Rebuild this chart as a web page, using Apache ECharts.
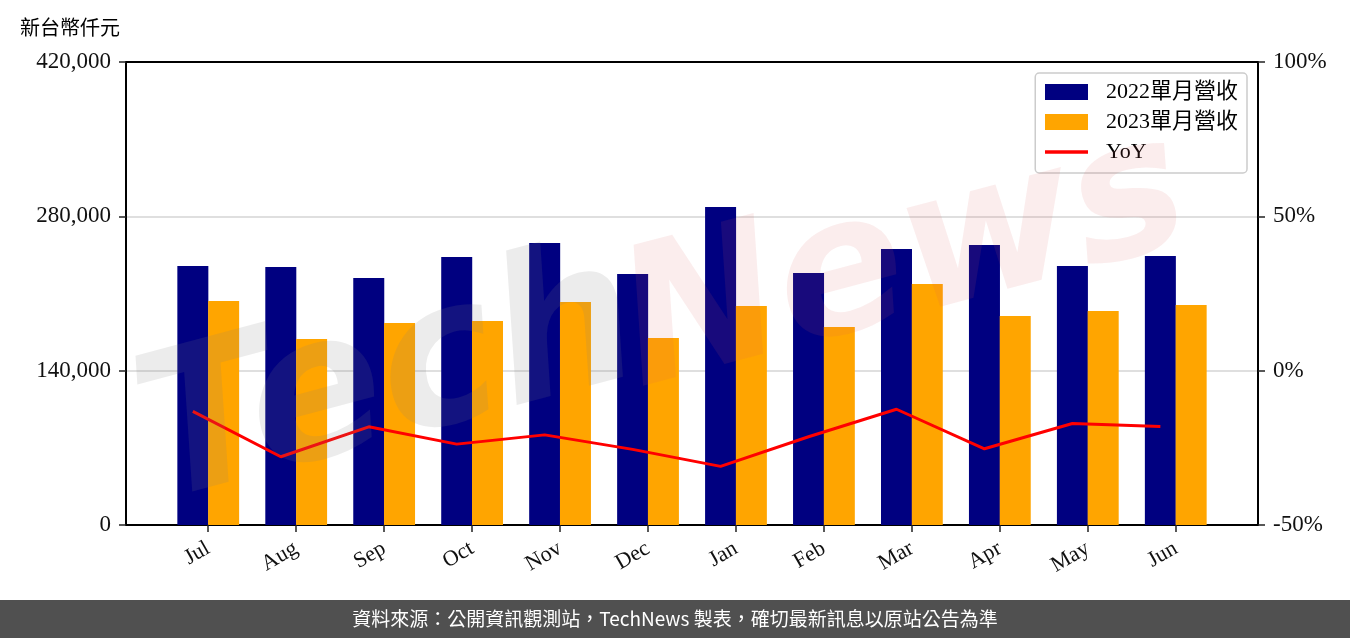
<!DOCTYPE html>
<html>
<head>
<meta charset="utf-8">
<script src="https://cdn.jsdelivr.net/npm/echarts@6/dist/echarts.min.js"></script>
<style>
html,body{margin:0;padding:0;background:#fff;}
#chart{width:1350px;height:638px;}
</style>
</head>
<body>
<div id="chart"></div>
<script>
// ---- data ----
var months = ['Jul','Aug','Sep','Oct','Nov','Dec','Jan','Feb','Mar','Apr','May','Jun'];
var rev2022 = [235000, 234000, 224100, 243100, 255800, 227700, 288500, 228600, 250400, 254000, 234900, 244000];
var rev2023 = [203200, 168700, 183200, 185100, 202300, 169600, 198700, 179600, 218600, 189600, 194100, 199600];
var yoy = [-13.2, -27.9, -18.2, -23.8, -20.8, -25.5, -31.0, -21.4, -12.5, -25.3, -17.1, -18.1];
var leftTicks = [0, 140000, 280000, 420000];
var rightTicks = [-50, 0, 50, 100];
var seriesNames = ['2022單月營收', '2023單月營收', 'YoY'];

// ---- layout / style ----
var OFF = 0.175;            // half of bar width in category units
var SERIF = "'Liberation Serif', 'Noto Sans CJK TC', serif";
var idx = months.map(function (m, i) { return i; });

var chart = echarts.init(document.getElementById('chart'), null, {renderer: 'canvas'});
var option = {
  animation: false,
  backgroundColor: '#ffffff',
  title: {
    text: '新台幣仟元',
    left: 15, top: 12,
    textStyle: {fontFamily: "'Noto Sans CJK TC', sans-serif", fontSize: 20, fontWeight: 'normal', color: '#000'}
  },
  legend: {
    orient: 'vertical',
    right: 103, top: 73,
    padding: [8, 9, 10, 8],
    itemWidth: 43, itemHeight: 16,
    itemGap: 8,
    borderColor: '#cccccc', borderWidth: 1.5, borderRadius: 4,
    backgroundColor: 'rgba(255,255,255,0.8)',
    data: [
      {name: seriesNames[0], icon: 'rect'},
      {name: seriesNames[1], icon: 'rect'},
      {name: seriesNames[2], itemStyle: {color: 'rgba(0,0,0,0)', borderColor: 'rgba(0,0,0,0)', borderWidth: 0},
       lineStyle: {color: '#ff0000', width: 3.5}}
    ],
    textStyle: {fontFamily: SERIF, fontSize: 22, color: '#000', padding: [0, 0, 0, 13]}
  },
  grid: {left: 126, right: 92, top: 62, bottom: 113, containLabel: false, outerBoundsMode: 'none'},
  xAxis: [
    {
      type: 'value', position: 'bottom',
      min: -0.935, max: 11.935,
      axisLine: {show: true, onZero: false, lineStyle: {color: '#000', width: 2}},
      axisTick: {show: true, customValues: idx, length: 7, lineStyle: {color: '#222', width: 1.5}},
      axisLabel: {
        show: true, customValues: idx, rotate: 30, margin: 22,
        fontFamily: SERIF, fontSize: 22, color: '#111',
        formatter: function (v) { return months[Math.round(v)]; }
      },
      splitLine: {show: false}
    },
    {
      type: 'value', position: 'top',
      min: -0.935, max: 11.935,
      axisLine: {show: true, onZero: false, lineStyle: {color: '#000', width: 2}},
      axisTick: {show: false}, axisLabel: {show: false}, splitLine: {show: false}
    }
  ],
  yAxis: [
    {
      type: 'value', position: 'left',
      min: leftTicks[0], max: leftTicks[leftTicks.length - 1], interval: leftTicks[1] - leftTicks[0],
      axisLine: {show: true, onZero: false, lineStyle: {color: '#000', width: 2}},
      axisTick: {show: true, length: 7, lineStyle: {color: '#222', width: 1.5}},
      axisLabel: {
        margin: 15, fontFamily: SERIF, fontSize: 23, color: '#111',
        formatter: function (v) { return v.toLocaleString('en-US'); }
      },
      splitLine: {show: true, lineStyle: {color: '#d4d4d4', width: 1.5}}
    },
    {
      type: 'value', position: 'right',
      min: rightTicks[0], max: rightTicks[rightTicks.length - 1], interval: rightTicks[1] - rightTicks[0],
      axisLine: {show: true, onZero: false, lineStyle: {color: '#000', width: 2}},
      axisTick: {show: true, length: 7, lineStyle: {color: '#222', width: 1.5}},
      axisLabel: {
        margin: 15, fontFamily: SERIF, fontSize: 23, color: '#111',
        formatter: function (v) { return v + '%'; }
      },
      splitLine: {show: false}
    }
  ],
  series: [
    {
      name: seriesNames[0], type: 'bar', xAxisIndex: 0, yAxisIndex: 0,
      barWidth: 31, barGap: '-100%',
      itemStyle: {color: '#000080'},
      data: rev2022.map(function (v, i) { return [i - OFF, v]; })
    },
    {
      name: seriesNames[1], type: 'bar', xAxisIndex: 0, yAxisIndex: 0,
      barWidth: 31, barGap: '-100%',
      itemStyle: {color: '#ffa500'},
      data: rev2023.map(function (v, i) { return [i + OFF, v]; })
    },
    {
      name: seriesNames[2], type: 'line', xAxisIndex: 0, yAxisIndex: 1,
      symbol: 'none', z: 5,
      lineStyle: {color: '#ff0000', width: 3},
      itemStyle: {color: '#ff0000'},
      data: yoy.map(function (v, i) { return [i - OFF, v]; })
    }
  ],
  graphic: [
    {
      type: 'text', x: 390, y: 385, rotation: 0.26, z: 100, silent: true,
      style: {
        text: 'Tech', fontFamily: "'DejaVu Sans', sans-serif", fontSize: 200,
        fontWeight: 'bold', fontStyle: 'italic',
        fill: 'rgba(130,130,130,0.15)', align: 'center', verticalAlign: 'middle'
      }
    },
    {
      type: 'text', x: 905, y: 265, rotation: 0.26, z: 100, silent: true,
      style: {
        text: 'News', fontFamily: "'DejaVu Sans', sans-serif", fontSize: 190,
        fontWeight: 'bold', fontStyle: 'italic',
        fill: 'rgba(220,90,90,0.11)', align: 'center', verticalAlign: 'middle'
      }
    },
    {
      type: 'rect', x: 0, y: 600, z: 50, silent: true,
      shape: {x: 0, y: 0, width: 1350, height: 38},
      style: {fill: '#505050'}
    },
    {
      type: 'text', x: 675, y: 619, z: 51, silent: true,
      style: {
        text: '資料來源：公開資訊觀測站，TechNews 製表，確切最新訊息以原站公告為準',
        fontFamily: "'Noto Sans CJK TC', sans-serif", fontSize: 19,
        fill: '#ffffff', align: 'center', verticalAlign: 'middle'
      }
    }
  ]
};
chart.setOption(option);
</script>
</body>
</html>
